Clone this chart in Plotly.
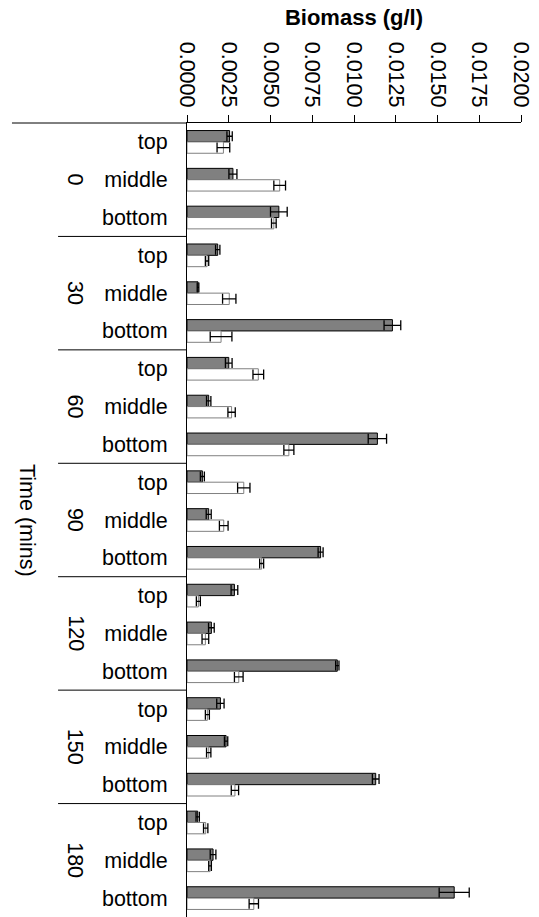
import plotly.graph_objects as go

times = ["0", "30", "60", "90", "120", "150", "180"]
positions = ["top", "middle", "bottom"]

# series A (grey bars) and series B (white bars), ordered time-major, then top/middle/bottom
grey_vals = [0.00255, 0.00275, 0.00550,
             0.00184, 0.00066, 0.01230,
             0.00250, 0.00130, 0.01140,
             0.00092, 0.00130, 0.00800,
             0.00284, 0.00146, 0.00900,
             0.00200, 0.00234, 0.01130,
             0.00064, 0.00156, 0.01600]
grey_err = [0.00016, 0.00024, 0.00050,
            0.00013, 0.00005, 0.00050,
            0.00020, 0.00013, 0.00055,
            0.00012, 0.00015, 0.00015,
            0.00020, 0.00017, 0.00010,
            0.00022, 0.00010, 0.00020,
            0.00010, 0.00017, 0.00090]
white_vals = [0.00218, 0.00555, 0.00520,
              0.00120, 0.00253, 0.00204,
              0.00427, 0.00267, 0.00610,
              0.00340, 0.00220, 0.00447,
              0.00068, 0.00110, 0.00310,
              0.00122, 0.00130, 0.00287,
              0.00112, 0.00138, 0.00400]
white_err = [0.00038, 0.00035, 0.00014,
             0.00010, 0.00040, 0.00065,
             0.00032, 0.00022, 0.00030,
             0.00037, 0.00026, 0.00012,
             0.00012, 0.00020, 0.00026,
             0.00012, 0.00013, 0.00022,
             0.00013, 0.00008, 0.00028]

x_ticks = [0.0, 0.0025, 0.005, 0.0075, 0.01, 0.0125, 0.015, 0.0175, 0.02]

cats = [f"{t}|{p}" for t in times for p in positions]
labels = [p for t in times for p in positions]

FONT = "Liberation Sans, Arial, sans-serif"

fig = go.Figure()
fig.add_trace(go.Bar(
    y=cats, x=grey_vals, orientation="h", name="grey",
    marker=dict(color="#808080", line=dict(color="#000000", width=1)),
    error_x=dict(type="data", array=grey_err, visible=True, color="#000000",
                 thickness=1.3, width=5),
))
fig.add_trace(go.Bar(
    y=cats, x=white_vals, orientation="h", name="white",
    marker=dict(color="#ffffff", line=dict(color="#808080", width=1)),
    error_x=dict(type="data", array=white_err, visible=True, color="#000000",
                 thickness=1.3, width=5),
))

shapes = []
# extended top line to the left
shapes.append(dict(type="line", xref="paper", yref="paper", x0=-0.524, x1=0,
                   y0=1, y1=1, line=dict(color="#000000", width=1)))
for g in range(1, len(times)):
    yb = g * len(positions) - 0.5
    shapes.append(dict(type="line", xref="paper", yref="y", x0=-0.386, x1=0,
                       y0=yb, y1=yb, line=dict(color="#000000", width=1)))

annotations = []
for t in times:
    annotations.append(dict(x=-0.335, xref="paper", y=f"{t}|middle", yref="y",
                            text=t, textangle=90, showarrow=False,
                            font=dict(family=FONT, size=21.5, color="#000000"),
                            xanchor="center", yanchor="middle"))
annotations.append(dict(x=-0.479, xref="paper", y=0.5, yref="paper",
                        text="Time (mins)", textangle=90, showarrow=False,
                        font=dict(family=FONT, size=21.5, color="#000000"),
                        xanchor="center", yanchor="middle"))

fig.update_layout(
    width=539, height=917,
    margin=dict(l=187, r=18, t=123, b=0),
    paper_bgcolor="white", plot_bgcolor="white",
    barmode="group", bargap=0.4, bargroupgap=0,
    showlegend=False,
    font=dict(family=FONT, size=21.5, color="#000000"),
    title=dict(text="<b>Biomass (g/l)</b>", x=0.5, xref="paper", xanchor="center",
               y=1 - 17 / 917, yref="container", yanchor="middle",
               font=dict(family=FONT, size=22, color="#000000")),
    xaxis=dict(side="top", range=[0, 0.02], tickvals=x_ticks, tickformat=".4f",
               tickangle=90, ticks="outside", ticklen=7, tickcolor="#000000",
               showline=True, linecolor="#000000", linewidth=1,
               showgrid=False, zeroline=False, fixedrange=True),
    yaxis=dict(type="category", categoryorder="array", categoryarray=cats,
               autorange="reversed", tickvals=cats, ticktext=labels,
               ticks="", showline=True, linecolor="#000000", linewidth=1,
               showgrid=False, zeroline=False, ticklabelstandoff=14,
               fixedrange=True),
    shapes=shapes, annotations=annotations,
)

fig.write_html("out.html")
